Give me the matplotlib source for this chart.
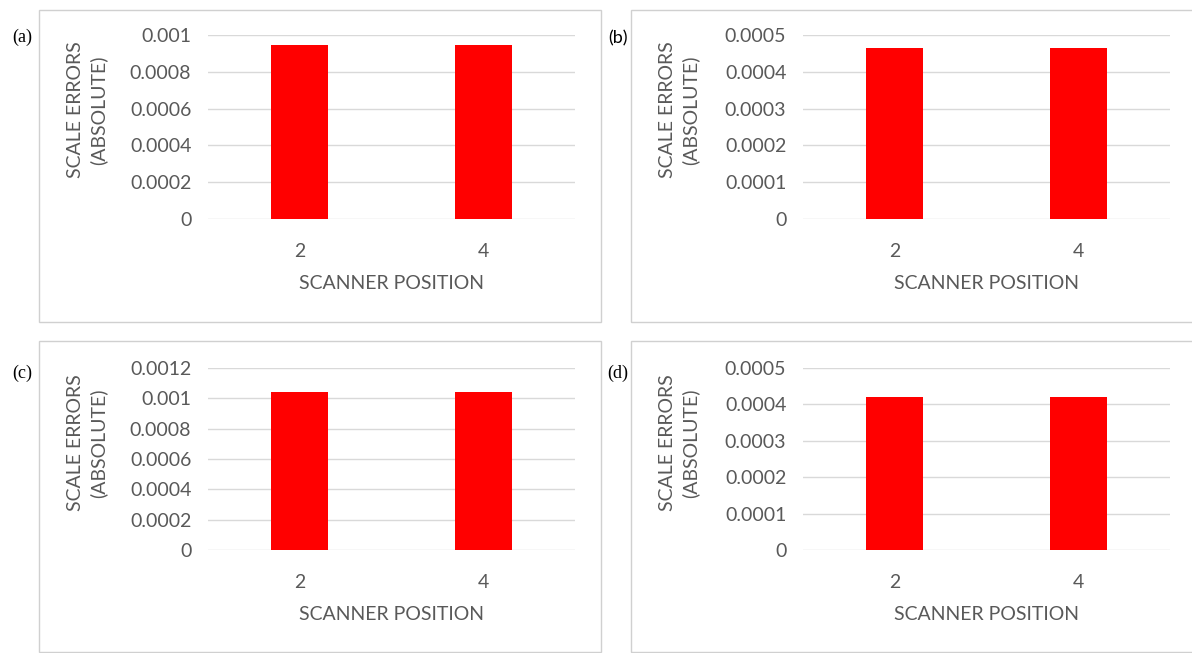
import matplotlib.pyplot as plt
from matplotlib.patches import Rectangle

# ==== DATI ====
positions = ["2", "4"]
errors_a = [0.000946, 0.000946]
errors_b = [0.000466, 0.000466]
errors_c = [0.001042, 0.001042]
errors_d = [0.000420, 0.000420]

ticks_a = [0, 0.0002, 0.0004, 0.0006, 0.0008, 0.001]
ticks_b = [0, 0.0001, 0.0002, 0.0003, 0.0004, 0.0005]
ticks_c = [0, 0.0002, 0.0004, 0.0006, 0.0008, 0.001, 0.0012]
ticks_d = [0, 0.0001, 0.0002, 0.0003, 0.0004, 0.0005]
tick_labels_a = ["0", "0.0002", "0.0004", "0.0006", "0.0008", "0.001"]
tick_labels_b = ["0", "0.0001", "0.0002", "0.0003", "0.0004", "0.0005"]
tick_labels_c = ["0", "0.0002", "0.0004", "0.0006", "0.0008", "0.001", "0.0012"]
tick_labels_d = ["0", "0.0001", "0.0002", "0.0003", "0.0004", "0.0005"]

W, H = 1192, 653
TXT = "#595959"
GRID = "#d9d9d9"
FONT = "Lato"
FS = 14

fig = plt.figure(figsize=(W / 100, H / 100), dpi=100)


def px_rect(x0, y0, x1, y1):
    # pixel box (top-left origin) -> figure fraction [left, bottom, w, h]
    return [x0 / W, 1 - y1 / H, (x1 - x0) / W, (y1 - y0) / H]


panels = [
    # tag, tag font, values, ticks, labels, axes box, frame box, tag pos, ylabel pos
    ("(a)", "Liberation Serif", errors_a, ticks_a, tick_labels_a,
     (208, 35, 575, 219), (39, 10, 601, 322), (22, 37), (87, 110)),
    ("(b)", FONT, errors_b, ticks_b, tick_labels_b,
     (803, 35, 1170, 219), (631, 10, 1230, 322), (618, 38), (679, 110)),
    ("(c)", "Liberation Serif", errors_c, ticks_c, tick_labels_c,
     (208, 368, 575, 550), (39, 341, 601, 652), (22, 373), (87, 443)),
    ("(d)", "Liberation Serif", errors_d, ticks_d, tick_labels_d,
     (803, 368, 1170, 550), (631, 341, 1230, 652), (618, 373), (679, 443)),
]

for tag, tag_font, vals, ticks, tlabels, abox, fbox, tpos, ypos in panels:
    # cornice grigia del pannello
    fx0, fy0, fx1, fy1 = fbox
    fig.patches.append(Rectangle((fx0 / W, 1 - fy1 / H), (fx1 - fx0) / W, (fy1 - fy0) / H,
                                 transform=fig.transFigure, fill=False,
                                 edgecolor="#d0d0d0", linewidth=1.0))

    ax = fig.add_axes(px_rect(*abox))
    ax.bar(range(len(positions)), vals, width=0.31, color="#ff0000", zorder=3)
    ax.set_xlim(-0.5, len(positions) - 0.5)
    ax.set_ylim(0, ticks[-1])
    ax.set_yticks(ticks)
    ax.set_yticklabels(tlabels)
    ax.set_xticks(range(len(positions)))
    ax.set_xticklabels(positions)
    ax.tick_params(length=0, labelsize=FS, labelcolor=TXT)
    ax.tick_params(axis="y", pad=12)
    ax.tick_params(axis="x", pad=17)
    for lab in ax.get_xticklabels() + ax.get_yticklabels():
        lab.set_fontfamily(FONT)
    ax.grid(axis="y", color=GRID, linewidth=1.0, zorder=0)
    for s in ax.spines.values():
        s.set_visible(False)
    ax.set_xlabel("SCANNER POSITION", fontsize=FS, color=TXT, family=FONT, labelpad=11)

    fig.text(ypos[0] / W, 1 - ypos[1] / H, "SCALE ERRORS\n(ABSOLUTE)", rotation=90,
             ha="center", va="center", multialignment="center",
             fontsize=FS, color=TXT, family=FONT, linespacing=1.4)
    fig.text(tpos[0] / W, 1 - tpos[1] / H, tag, ha="center", va="center",
             fontsize=13, family=tag_font, color="black")

fig.savefig("out.png", dpi=100, facecolor="white")
